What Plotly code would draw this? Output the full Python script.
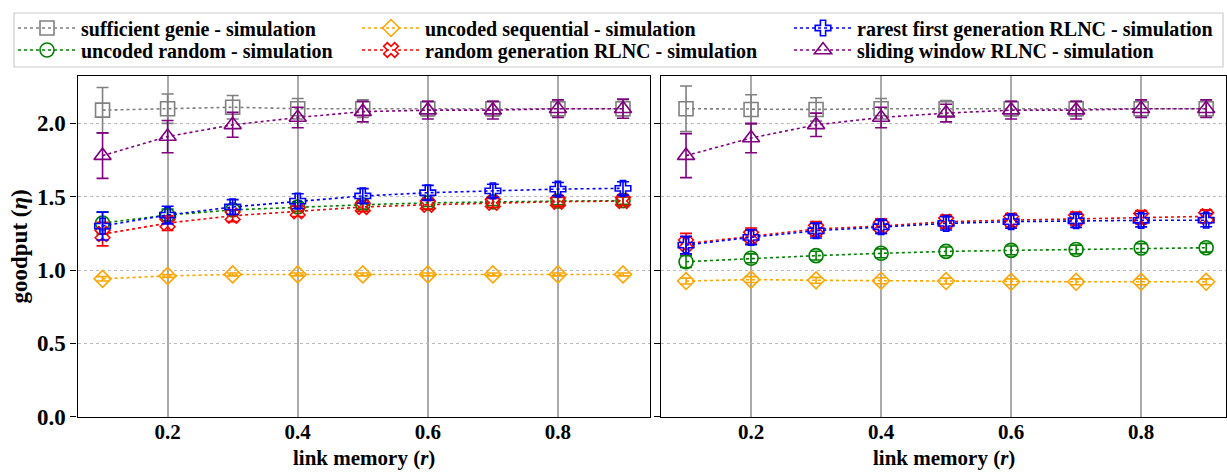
import plotly.graph_objects as go

# ---------------- data ----------------
link_memory = [0.1, 0.2, 0.3, 0.4, 0.5, 0.6, 0.7, 0.8, 0.9]
x_ticks = [0.2, 0.4, 0.6, 0.8]
y_ticks = [0.0, 0.5, 1.0, 1.5, 2.0]

series_names = [
    "sufficient genie - simulation",
    "uncoded random - simulation",
    "uncoded sequential - simulation",
    "random generation RLNC - simulation",
    "rarest first generation RLNC - simulation",
    "sliding window RLNC - simulation",
]

# left panel
L_genie = [2.09, 2.10, 2.11, 2.10, 2.10, 2.10, 2.10, 2.10, 2.10]
L_genie_err = [0.155, 0.10, 0.08, 0.07, 0.06, 0.05, 0.05, 0.05, 0.05]
L_random = [1.32, 1.375, 1.41, 1.43, 1.445, 1.458, 1.465, 1.47, 1.473]
L_random_err = [0.075, 0.04, 0.035, 0.03, 0.03, 0.025, 0.025, 0.025, 0.025]
L_seq = [0.94, 0.96, 0.97, 0.97, 0.97, 0.97, 0.97, 0.97, 0.97]
L_seq_err = [0.015, 0.01, 0.01, 0.01, 0.01, 0.01, 0.01, 0.01, 0.01]
L_randgen = [1.245, 1.32, 1.37, 1.40, 1.43, 1.445, 1.458, 1.466, 1.47]
L_randgen_err = [0.08, 0.05, 0.04, 0.035, 0.03, 0.03, 0.03, 0.03, 0.03]
L_rarest = [1.30, 1.375, 1.43, 1.47, 1.505, 1.527, 1.54, 1.552, 1.557]
L_rarest_err = [0.095, 0.06, 0.05, 0.05, 0.05, 0.05, 0.045, 0.045, 0.045]
L_sliding = [1.78, 1.91, 1.99, 2.04, 2.08, 2.09, 2.09, 2.10, 2.10]
L_sliding_err = [0.155, 0.11, 0.085, 0.07, 0.07, 0.06, 0.06, 0.06, 0.065]

# right panel
R_genie = [2.10, 2.095, 2.095, 2.10, 2.10, 2.10, 2.10, 2.10, 2.10]
R_genie_err = [0.155, 0.10, 0.08, 0.07, 0.055, 0.05, 0.05, 0.05, 0.05]
R_random = [1.057, 1.08, 1.098, 1.114, 1.127, 1.134, 1.14, 1.15, 1.152]
R_random_err = [0.04, 0.03, 0.03, 0.03, 0.03, 0.03, 0.03, 0.03, 0.03]
R_seq = [0.925, 0.935, 0.93, 0.927, 0.925, 0.92, 0.92, 0.92, 0.92]
R_seq_err = [0.02, 0.02, 0.02, 0.02, 0.02, 0.02, 0.02, 0.02, 0.02]
R_randgen = [1.18, 1.232, 1.28, 1.30, 1.33, 1.34, 1.35, 1.36, 1.366]
R_randgen_err = [0.07, 0.055, 0.05, 0.05, 0.045, 0.045, 0.045, 0.045, 0.045]
R_rarest = [1.17, 1.223, 1.268, 1.295, 1.318, 1.33, 1.336, 1.339, 1.34]
R_rarest_err = [0.06, 0.05, 0.05, 0.045, 0.045, 0.045, 0.045, 0.045, 0.045]
R_sliding = [1.78, 1.90, 1.99, 2.04, 2.07, 2.09, 2.09, 2.10, 2.10]
R_sliding_err = [0.15, 0.10, 0.08, 0.07, 0.06, 0.06, 0.06, 0.06, 0.06]

x_title = "<b>link memory (<i>r</i>)</b>"
y_title = "<b>goodput (<i>η</i>)</b>"

# ---------------- styles ----------------
colors = ["grey", "green", "orange", "red", "blue", "purple"]
symbols = ["square-open", "circle-open", "diamond-open", "x-open", "cross-open", "triangle-up-open"]
sizes = [14, 14, 13, 13, 13, 15]

left_sets = [(L_genie, L_genie_err), (L_random, L_random_err), (L_seq, L_seq_err),
             (L_randgen, L_randgen_err), (L_rarest, L_rarest_err), (L_sliding, L_sliding_err)]
right_sets = [(R_genie, R_genie_err), (R_random, R_random_err), (R_seq, R_seq_err),
              (R_randgen, R_randgen_err), (R_rarest, R_rarest_err), (R_sliding, R_sliding_err)]

W, H = 1227, 472
FONT = "Liberation Serif"
ITEMW = 58

# legend placement (matplotlib ncol=3 column-major)
leg_cols = [0, 0, 1, 1, 2, 2]
leg_rows = [0, 1, 0, 1, 0, 1]
leg_marker_px = [47, 391, 823]
leg_y_px = [28, 50]

fig = go.Figure()

for i in range(6):
    lname = "legend" if i == 0 else f"legend{i+1}"
    for side, sets in ((0, left_sets), (1, right_sets)):
        yv, ev = sets[i]
        fig.add_trace(go.Scatter(
            x=link_memory, y=yv,
            mode="lines+markers",
            name=series_names[i],
            line=dict(color=colors[i], width=1.6, dash="dot"),
            marker=dict(symbol=symbols[i], size=sizes[i], color=colors[i],
                        line=dict(color=colors[i], width=1.6)),
            error_y=dict(type="data", array=ev, visible=True, color=colors[i],
                         thickness=1.6, width=6),
            xaxis="x" if side == 0 else "x2",
            yaxis="y" if side == 0 else "y2",
            showlegend=(side == 0),
            legend=lname,
        ))

# plot area geometry in pixels
L_left, L_right = 77.5, 650
R_left, R_right = 661, 1226
P_top, P_bottom = 76, 416.7

xdomL = [L_left / W, L_right / W]
xdomR = [R_left / W, R_right / W]
ydom = [1 - P_bottom / H, 1 - P_top / H]

xtickfont = dict(family=FONT, size=21, color="black", weight="bold")
ytickfont = dict(family=FONT, size=23, color="black", weight="bold")
common_x = dict(
    tickvals=x_ticks, ticktext=[f"{v:.1f}" for v in x_ticks],
    showgrid=True, gridcolor="#aaaaaa", gridwidth=1.5, griddash="solid",
    zeroline=False, showline=True, linecolor="black", linewidth=1.3, mirror=True,
    ticks="", ticklabelstandoff=-4,
    tickfont=xtickfont, automargin=False,
)
common_y = dict(
    range=[0, 2.323], tickvals=y_ticks,
    showgrid=True, gridcolor="#bbbbbb", gridwidth=1.2, griddash="dot",
    zeroline=False, showline=True, linecolor="black", linewidth=1.3, mirror=True,
    ticks="outside", ticklen=6, tickcolor="black", tickwidth=1.3,
    tickfont=ytickfont, automargin=False,
)

annotations = []
for dom in (xdomL, xdomR):
    annotations.append(dict(
        text=x_title, xref="paper", yref="paper",
        x=(dom[0] + dom[1]) / 2, y=1.0 / H, xanchor="center", yanchor="bottom",
        showarrow=False, borderpad=0,
        font=dict(family=FONT, size=21, color="black"),
    ))

layout = dict(
    width=W, height=H,
    margin=dict(l=0, r=0, t=0, b=0, autoexpand=False),
    paper_bgcolor="white", plot_bgcolor="white",
    font=dict(family=FONT, color="black"),
    xaxis=dict(domain=xdomL, range=[0.0615, 0.9415], anchor="y", **common_x),
    xaxis2=dict(domain=xdomR, range=[0.0615, 0.9305], anchor="y2", **common_x),
    yaxis=dict(domain=ydom, anchor="x", showticklabels=True,
               tickformat=".1f",
               title=dict(text=y_title, font=dict(family=FONT, size=23, color="black"), standoff=2),
               **common_y),
    yaxis2=dict(domain=ydom, anchor="x2", showticklabels=False, **common_y),
    annotations=annotations,
    shapes=[dict(type="rect", xref="paper", yref="paper",
                 x0=14 / W, x1=1223 / W, y0=1 - 67 / H, y1=1 - 13 / H,
                 line=dict(color="#cccccc", width=1.2), fillcolor="rgba(255,255,255,0.8)", layer="below")],
)

for i in range(6):
    lname = "legend" if i == 0 else f"legend{i+1}"
    layout[lname] = dict(
        x=(leg_marker_px[leg_cols[i]] - (ITEMW / 2 + 5)) / W, xanchor="left",
        y=1 - leg_y_px[leg_rows[i]] / H, yanchor="middle",
        bgcolor="rgba(0,0,0,0)", borderwidth=0,
        font=dict(family=FONT, size=20, color="black", weight="bold"),
        itemwidth=ITEMW,
    )

fig.update_layout(**layout)
fig.write_html("out.html")
